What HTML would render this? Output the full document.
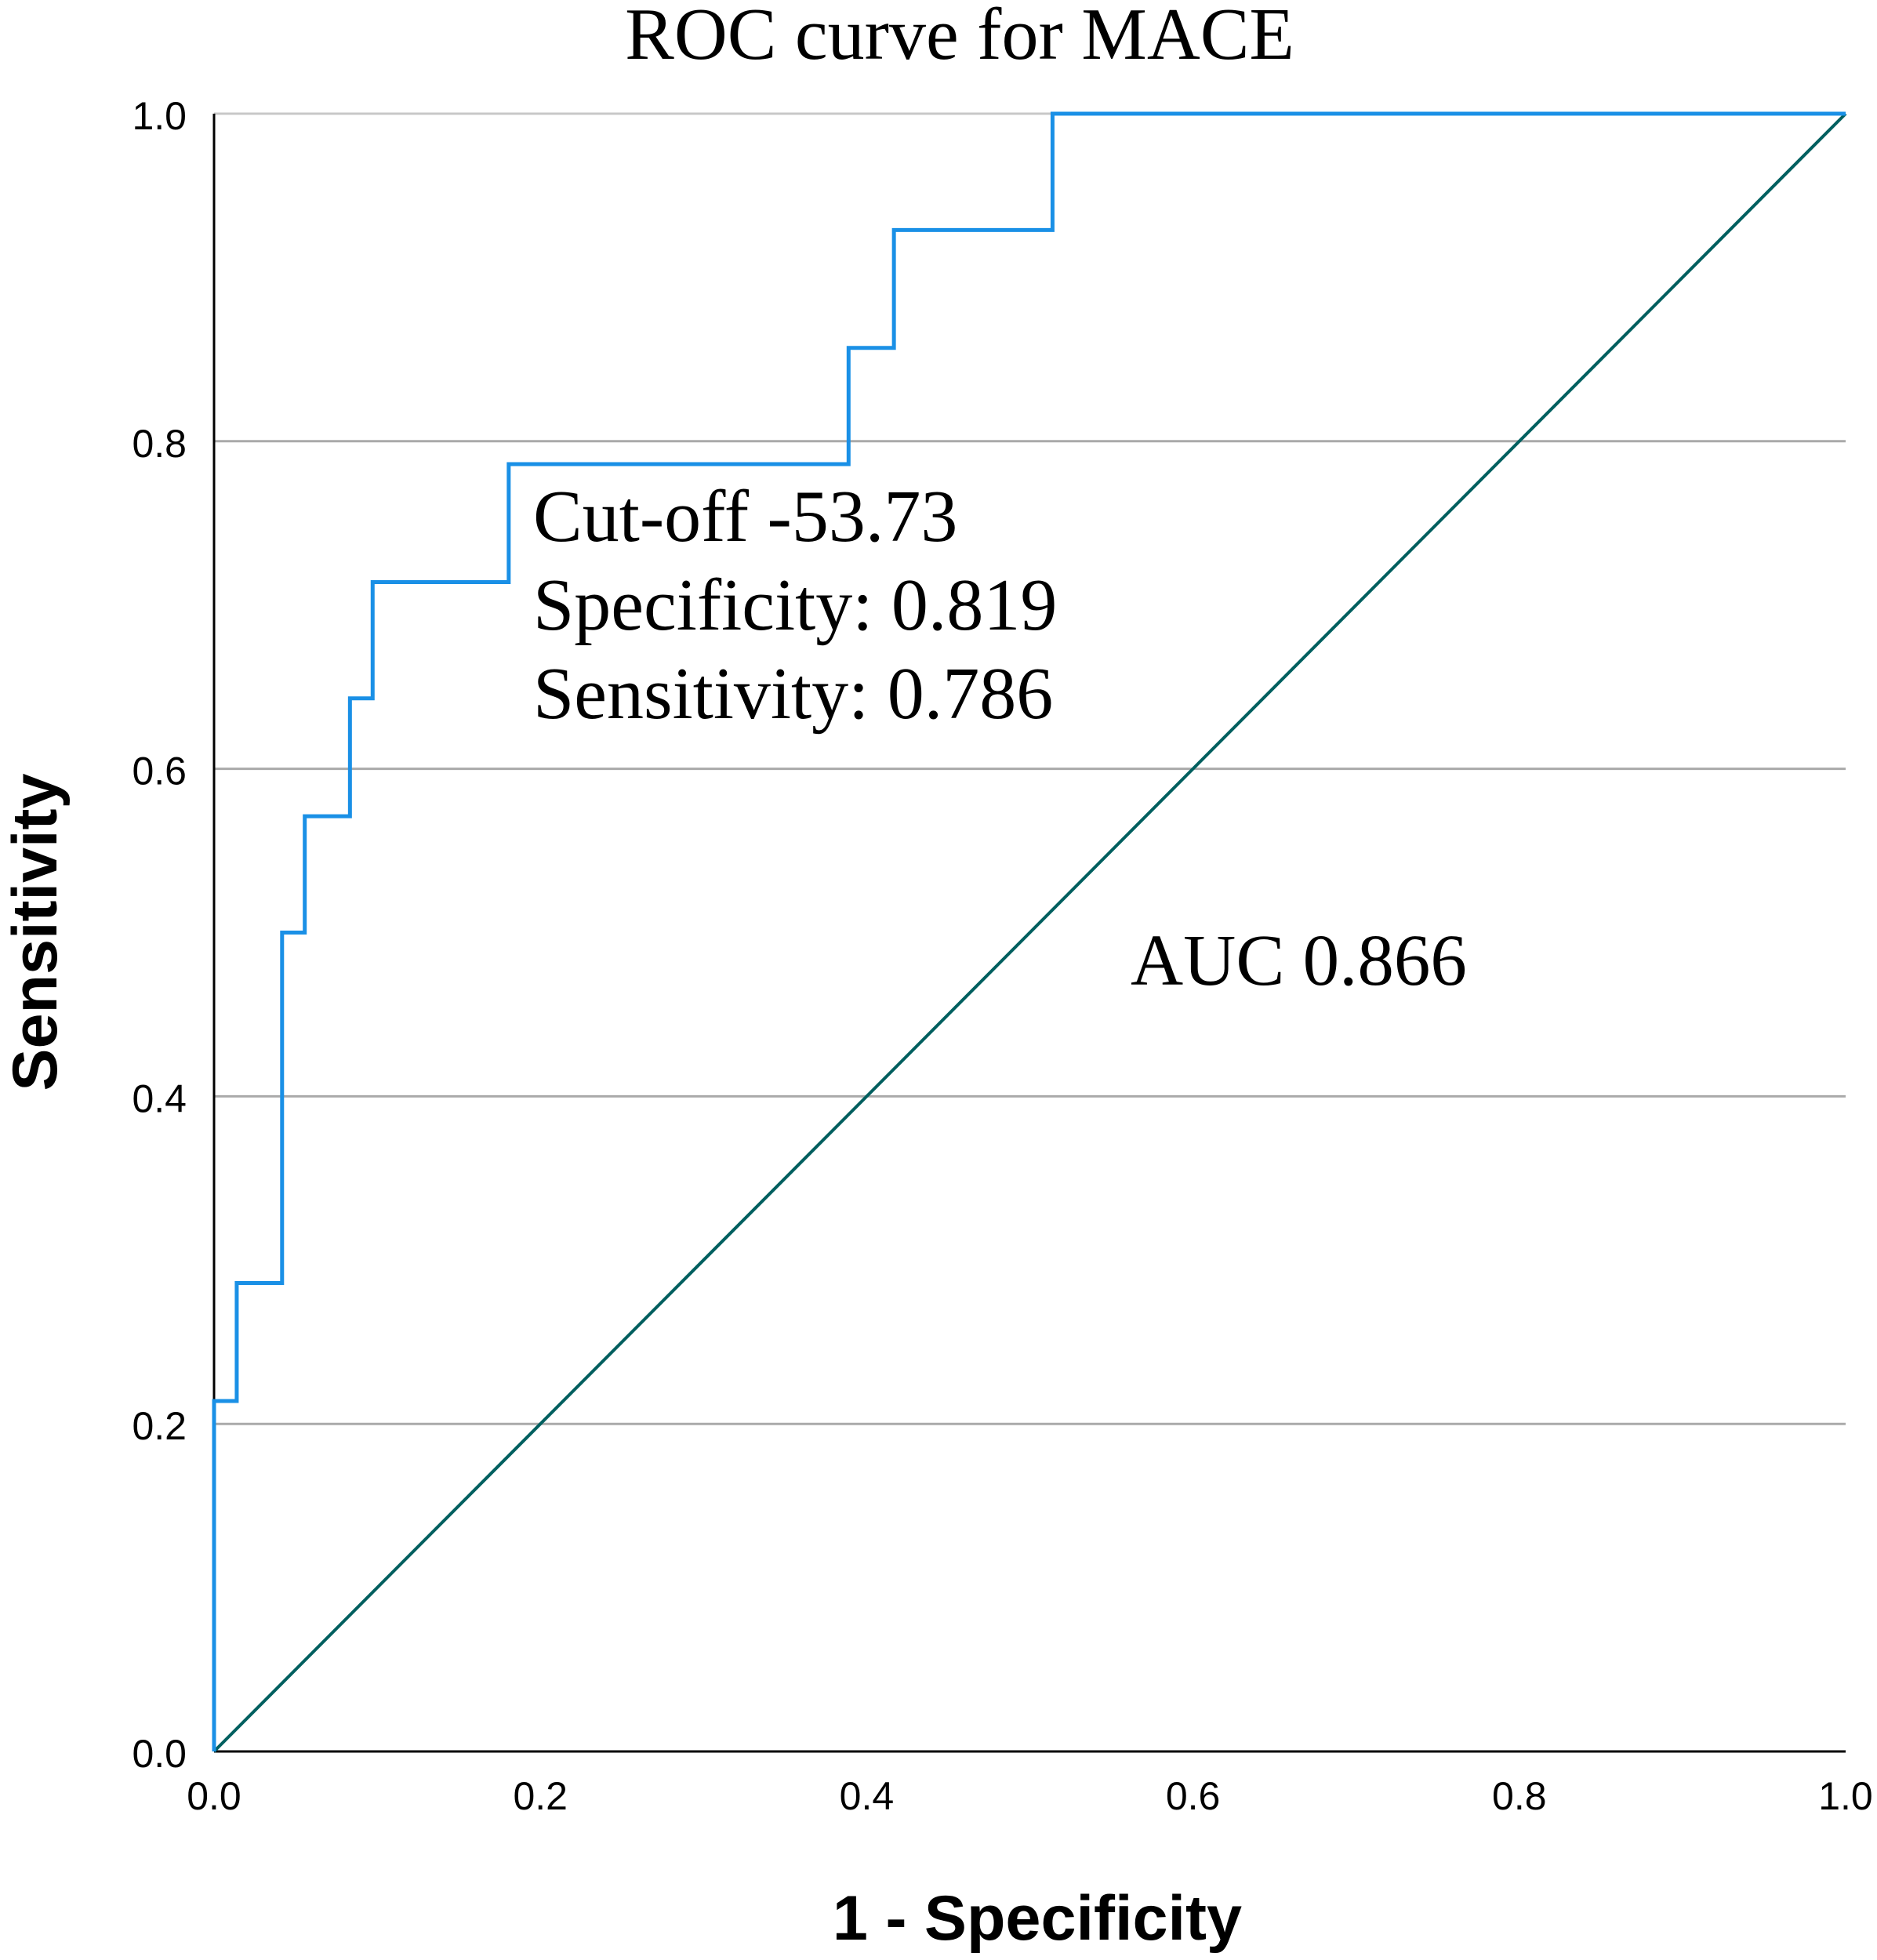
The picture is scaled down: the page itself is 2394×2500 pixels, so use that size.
<!DOCTYPE html>
<html><head><meta charset="utf-8"><style>html,body{margin:0;padding:0;background:#fff}svg{display:block}</style></head>
<body>
<svg id="chart" width="2394" height="2500" xmlns="http://www.w3.org/2000/svg">
<text x="1224" y="75" font-family="Liberation Serif, serif" font-size="94" text-anchor="middle">ROC curve for MACE</text>
<g id="grid"></g>
<g id="ticks"></g>
<line x1="273" y1="145" x2="273" y2="2234" stroke="#000" stroke-width="3"/>
<line x1="273" y1="2234" x2="2354" y2="2234" stroke="#000" stroke-width="3"/>
<g id="series"></g>
<text font-family="Liberation Serif, serif" font-size="94">
<tspan x="680" y="690">Cut-off -53.73</tspan>
<tspan x="680" y="803">Specificity: 0.819</tspan>
<tspan x="680" y="916">Sensitivity: 0.786</tspan>
</text>
<text x="1442" y="1256" font-family="Liberation Serif, serif" font-size="93">AUC 0.866</text>
<text x="1323" y="2474" font-family="Liberation Sans, sans-serif" font-weight="bold" font-size="81" text-anchor="middle">1 - Specificity</text>
<text transform="translate(72,1189) rotate(-90)" font-family="Liberation Sans, sans-serif" font-weight="bold" font-size="81" text-anchor="middle">Sensitivity</text>
</svg>
<script>
const rocFpr = [0, 0, 0.0139, 0.0139, 0.0417, 0.0417, 0.0556, 0.0556, 0.0833, 0.0833, 0.0972, 0.0972, 0.1806, 0.1806, 0.3889, 0.3889, 0.4167, 0.4167, 0.5139, 0.5139, 1.0];
const rocTpr = [0, 0.214, 0.214, 0.286, 0.286, 0.5, 0.5, 0.571, 0.571, 0.643, 0.643, 0.714, 0.714, 0.786, 0.786, 0.857, 0.857, 0.929, 0.929, 1.0, 1.0];
const refX = [0, 1];
const refY = [0, 1];
const tickValues = [0, 0.2, 0.4, 0.6, 0.8, 1.0];
const tickLabels = ["0.0", "0.2", "0.4", "0.6", "0.8", "1.0"];

const X0 = 273, X1 = 2354, Y0 = 2234, Y1 = 145;
const sx = v => X0 + v * (X1 - X0);
const sy = v => Y0 - v * (Y0 - Y1);
const NS = "http://www.w3.org/2000/svg";
const grid = document.getElementById('grid');
const ticks = document.getElementById('ticks');
const series = document.getElementById('series');

tickValues.forEach((v, i) => {
  if (v > 0) {
    const g = document.createElementNS(NS, 'line');
    
    
    g.setAttribute('x1', X0); g.setAttribute('x2', X1);
    g.setAttribute('y1', sy(v)); g.setAttribute('y2', sy(v));
    g.setAttribute('stroke', v === 1 ? '#c8c8c8' : '#aaaaaa');
    g.setAttribute('stroke-width', '3');
    grid.appendChild(g);
  }
  const ty = document.createElementNS(NS, 'text');
  
  
  ty.setAttribute('x', 238); ty.setAttribute('y', sy(v) + 20);
  ty.setAttribute('text-anchor', 'end');
  ty.setAttribute('font-family', 'Liberation Sans, sans-serif');
  ty.setAttribute('font-size', '50');
  ty.textContent = tickLabels[i];
  ticks.appendChild(ty);
  const tx = document.createElementNS(NS, 'text');
  
  
  tx.setAttribute('x', sx(v)); tx.setAttribute('y', 2308);
  tx.setAttribute('text-anchor', 'middle');
  tx.setAttribute('font-family', 'Liberation Sans, sans-serif');
  tx.setAttribute('font-size', '50');
  tx.textContent = tickLabels[i];
  ticks.appendChild(tx);
});

const ref = document.createElementNS(NS, 'polyline');


ref.setAttribute('points', refX.map((x, i) => sx(x) + ',' + sy(refY[i])).join(' '));
ref.setAttribute('fill', 'none');
ref.setAttribute('stroke', '#005f5f');
ref.setAttribute('stroke-width', '4');
series.appendChild(ref);

const roc = document.createElementNS(NS, 'polyline');


roc.setAttribute('points', rocFpr.map((x, i) => sx(x) + ',' + sy(rocTpr[i])).join(' '));
roc.setAttribute('fill', 'none');
roc.setAttribute('stroke', '#1a90e6');
roc.setAttribute('stroke-width', '5');
series.appendChild(roc);
</script>
</body></html>
